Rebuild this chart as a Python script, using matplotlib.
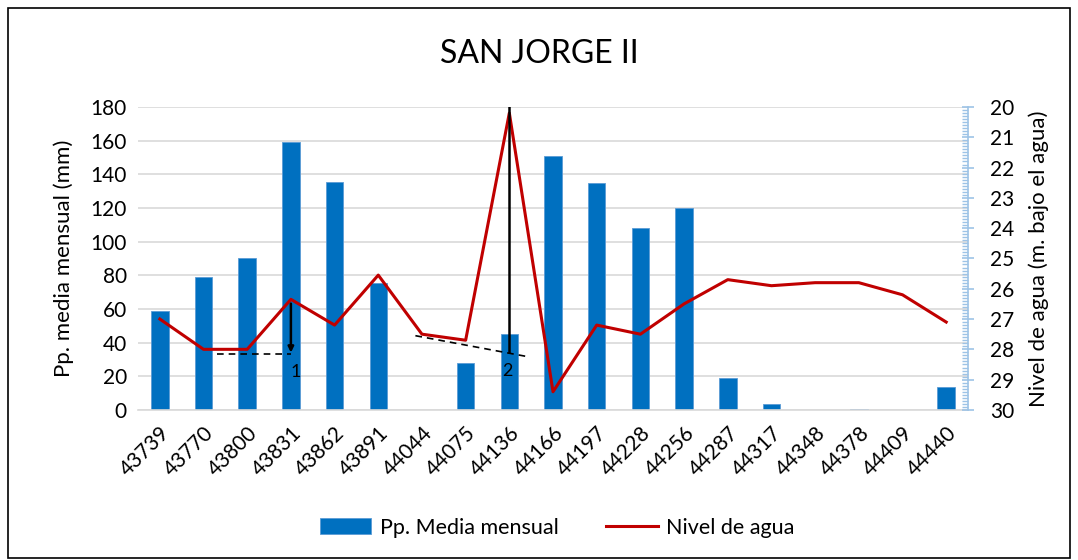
import numpy as np
import matplotlib
matplotlib.use("Agg")
import matplotlib.pyplot as plt
from matplotlib.patches import Rectangle
from matplotlib.ticker import MultipleLocator

plt.rcParams['font.family'] = ['Lato', 'DejaVu Sans']

# data
fechas = ['43739', '43770', '43800', '43831', '43862', '43891', '44044', '44075', '44136',
          '44166', '44197', '44228', '44256', '44287', '44317', '44348', '44378', '44409', '44440']
pp_media = [59, 79, 90, 159, 135.5, 75.5, 0, 28, 45, 151, 135, 108, 120, 19, 3.5, 0, 0.4, 0, 13.7]
nivel = [27.0, 28.0, 28.0, 26.35, 27.2, 25.55, 27.5, 27.7, 20.2, 29.4, 27.2, 27.5, 26.5,
         25.7, 25.9, 25.8, 25.8, 26.2, 27.1]

# annotation guides (x in category index, y in m)
guia1_x = [1.3, 3.0]
guia1_y = [28.15, 28.15]
flecha1 = (3.0, 26.4, 28.2)
guia2_x = [5.85, 8.45]
guia2_y = [27.55, 28.25]
flecha2 = (8.0, 20.0, 28.1)

fig = plt.figure(figsize=(10.78, 5.6), dpi=100)
ax = fig.add_axes([0.128, 0.268, 0.770, 0.541])
ax2 = ax.twinx()

x = np.arange(len(fechas))
ax.bar(x, pp_media, width=0.4, color='#0070C0', edgecolor='#5B9BD5', linewidth=0.6,
       label='Pp. Media mensual', zorder=2)
ax2.plot(x, nivel, color='#C00000', linewidth=2.2, label='Nivel de agua', zorder=3)

# left axis
ax.set_ylim(0, 180)
ax.set_yticks(np.arange(0, 181, 20))
ax.set_xlim(-0.5, len(fechas) - 0.5)
ax.grid(axis='y', color='#D9D9D9', linewidth=1.2, zorder=0)
ax.set_axisbelow(True)
for s in ['top', 'right', 'left']:
    ax.spines[s].set_visible(False)
ax.spines['bottom'].set_color('#D9D9D9')
ax.spines['bottom'].set_linewidth(1.2)
ax.tick_params(axis='y', length=0, labelsize=15, pad=8)
ax.tick_params(axis='x', length=0, labelsize=15, pad=9)
ax.set_xticks(x)
ax.set_xticklabels(fechas, rotation=45, ha='right', rotation_mode='anchor')
ax.set_ylabel('Pp. media mensual (mm)', fontsize=16, labelpad=12)

# right axis
ax2.set_ylim(30, 20)
ax2.set_yticks(np.arange(20, 31, 1))
ax2.yaxis.set_minor_locator(MultipleLocator(0.1))
for s in ['top', 'left', 'bottom']:
    ax2.spines[s].set_visible(False)
ax2.spines['right'].set_color('#9DC3E6')
ax2.spines['right'].set_linewidth(1.2)
ax2.tick_params(axis='y', which='major', direction='inout', length=8, color='#9DC3E6',
                width=1.2, labelsize=15, pad=12)
ax2.tick_params(axis='y', which='minor', direction='in', length=4, color='#9DC3E6', width=1)
ax2.set_ylabel('Nivel de agua (m. bajo el agua)', fontsize=16, labelpad=10)

# hand-drawn marks
ax2.plot(guia1_x, guia1_y, color='black', linestyle='--', linewidth=1.2, dashes=(4, 3), zorder=4)
ax2.annotate('', xy=(flecha1[0], flecha1[2]), xytext=(flecha1[0], flecha1[1]),
             arrowprops=dict(arrowstyle='-|>', color='black', lw=1.8, mutation_scale=8), zorder=4)
ax2.text(flecha1[0] + 0.1, flecha1[2] + 0.3, '1', fontsize=13, ha='center', va='top')
ax2.plot(guia2_x, guia2_y, color='black', linestyle='--', linewidth=1.2, dashes=(4, 3), zorder=4)
ax2.plot([flecha2[0], flecha2[0]], [flecha2[1], flecha2[2]], color='black', linewidth=1.8, zorder=4)
ax2.text(flecha2[0] - 0.05, flecha2[2] + 0.35, '2', fontsize=13, ha='center', va='top')

fig.suptitle('SAN JORGE II', fontsize=23, y=0.93)

h1, l1 = ax.get_legend_handles_labels()
h2, l2 = ax2.get_legend_handles_labels()
fig.legend(h1 + h2, l1 + l2, loc='center', bbox_to_anchor=(0.517, 0.058), ncol=2,
           frameon=False, fontsize=15.5, handlelength=2.4, columnspacing=2.2, handletextpad=0.4)

fig.patches.append(Rectangle((0.007, 0.004), 0.986, 0.982, transform=fig.transFigure,
                             fill=False, edgecolor='black', linewidth=1.2))

fig.savefig('out.png', dpi=100)
